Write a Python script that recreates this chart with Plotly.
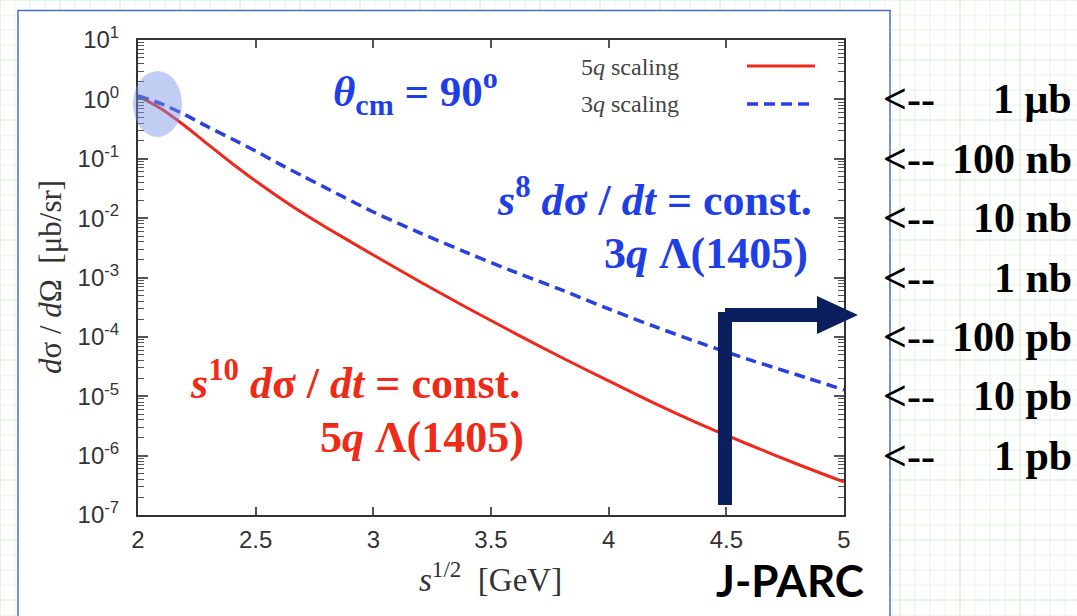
import plotly.graph_objects as go

# ---------------- data ----------------
sqrt_s = [2.0, 2.1, 2.2, 2.3, 2.4, 2.5, 2.6, 2.7, 2.8, 3.0, 3.2, 3.4, 3.6, 3.8,
          4.0, 4.2, 4.4, 4.6, 4.8, 5.0]
five_q = [1.14, 0.69, 0.356, 0.171, 0.0832, 0.0422, 0.0223, 0.0122, 6.96e-3, 2.39e-3,
          8.41e-4, 3.07e-4, 1.16e-4, 4.5e-5, 1.81e-5, 7.41e-6, 3.22e-6, 1.51e-6, 7.23e-7, 3.6e-7]
three_q = [1.14, 0.84, 0.55, 0.34, 0.215, 0.135, 0.082, 0.051, 0.032, 0.0127,
           5.6e-3, 2.6e-3, 1.24e-3, 6.2e-4, 2.95e-4, 1.47e-4, 7.6e-5, 4.1e-5, 2.3e-5, 1.28e-5]

series_names = ["5<i>q</i> scaling", "3<i>q</i> scaling"]

x_tick_vals = [2, 2.5, 3, 3.5, 4, 4.5, 5]
x_tick_text = ["2", "2.5", "3", "3.5", "4", "4.5", "5"]
y_exponents = [1, 0, -1, -2, -3, -4, -5, -6, -7]
y_tick_text = ["10<sup>%d</sup>" % e for e in y_exponents]

unit_exponents = [0, -1, -2, -3, -4, -5, -6]
unit_labels = ["1 μb", "100 nb", "10 nb", "1 nb", "100 pb", "10 pb", "1 pb"]

# ---------------- geometry helpers ----------------
W, H = 1077, 616
L, R, T, B = 138, 844, 40, 515


def px(x):
    return (x - L) / (R - L)


def py(y):
    return (B - y) / (B - T)


RED = "#f0281c"
BLUE = "#2a3fe0"
TXT_BLUE = "#1f3fe6"
TXT_RED = "#ee2a18"
NAVY = "#0b1f5e"
SERIF = "Liberation Serif, Times New Roman, serif"
SANS = "Liberation Sans, Arial, sans-serif"

fig = go.Figure()
fig.add_trace(go.Scatter(x=sqrt_s, y=five_q, mode="lines", name=series_names[0],
                         line=dict(color=RED, width=3, shape="spline", smoothing=0.8),
                         showlegend=False))
fig.add_trace(go.Scatter(x=sqrt_s, y=three_q, mode="lines", name=series_names[1],
                         line=dict(color=BLUE, width=3.5, dash="11px,6px",
                                   shape="spline", smoothing=0.8),
                         showlegend=False))

shapes = []
# graph-paper background
for i, gx in enumerate(range(0, W + 1, 15)):
    shapes.append(dict(type="line", xref="paper", yref="paper", layer="below",
                       x0=px(gx), x1=px(gx), y0=py(-5), y1=py(H + 5),
                       line=dict(color="#cdeccd" if i % 4 == 0 else "#e4f4e4", width=1)))
for i, gy in enumerate(range(0, H + 1, 15)):
    shapes.append(dict(type="line", xref="paper", yref="paper", layer="below",
                       x0=px(-5), x1=px(W + 5), y0=py(gy), y1=py(gy),
                       line=dict(color="#cdeccd" if i % 4 == 0 else "#e4f4e4", width=1)))
# slide frame
shapes.append(dict(type="rect", xref="paper", yref="paper", layer="below",
                   x0=px(18), x1=px(890), y0=py(10.5), y1=py(650),
                   fillcolor="white", line=dict(color="#4a6fc4", width=1.5)))
# shaded spot
shapes.append(dict(type="circle", xref="paper", yref="paper", layer="above",
                   x0=px(133), x1=px(182), y0=py(137), y1=py(71),
                   fillcolor="rgba(120,145,230,0.45)", line=dict(width=0)))
# legend samples
shapes.append(dict(type="line", xref="paper", yref="paper", layer="above",
                   x0=px(747), x1=px(815), y0=py(66), y1=py(66),
                   line=dict(color=RED, width=3)))
shapes.append(dict(type="line", xref="paper", yref="paper", layer="above",
                   x0=px(747), x1=px(815), y0=py(104), y1=py(104),
                   line=dict(color=BLUE, width=3.5, dash="11px,6px")))
# J-PARC arrow
shapes.append(dict(type="rect", xref="paper", yref="paper", layer="above",
                   x0=px(718), x1=px(732), y0=py(505), y1=py(312),
                   fillcolor=NAVY, line=dict(width=0)))
shapes.append(dict(type="rect", xref="paper", yref="paper", layer="above",
                   x0=px(725), x1=px(820), y0=py(322), y1=py(308),
                   fillcolor=NAVY, line=dict(width=0)))
shapes.append(dict(type="path", xref="paper", yref="paper", layer="above",
                   path="M %f %f L %f %f L %f %f Z" % (px(817), py(296), px(858), py(315),
                                                       px(817), py(334)),
                   fillcolor=NAVY, line=dict(width=0)))

ann = []


def text(x, y, s, size, color, family=SERIF, xanchor="left", yanchor="middle",
         yref="paper", angle=0):
    ann.append(dict(x=px(x), y=(py(y) if yref == "paper" else y), xref="paper", yref=yref,
                    text=s, showarrow=False, xanchor=xanchor, yanchor=yanchor,
                    textangle=angle, font=dict(size=size, color=color, family=family)))


# legend texts
text(579, 67, series_names[0], 24, "#444")
text(579, 104, series_names[1], 24, "#444")
# slide annotations
text(331, 91, "<b><i>θ</i><sub>cm</sub> = 90<sup>o</sup></b>", 43, TXT_BLUE)
text(814, 197, "<b><i>s</i><sup>8</sup> <i>d</i>σ / <i>dt</i> = const.</b>", 44, TXT_BLUE,
     xanchor="right")
text(810, 253, "<b>3<i>q</i> Λ(1405)</b>", 44, TXT_BLUE, xanchor="right")
text(355, 380, "<b><i>s</i><sup>10</sup> <i>d</i>σ / <i>dt</i> = const.</b>", 44, TXT_RED,
     xanchor="center")
text(526, 437, "<b>5<i>q</i> Λ(1405)</b>", 44, TXT_RED, xanchor="right")
text(714, 580, "<b>J-PARC</b>", 44, "black", family="Lato, Open Sans, sans-serif")
# axis titles
text(490, 577, "<i>s</i><sup>1/2</sup>&nbsp;&nbsp;[GeV]", 33, "#333", xanchor="center")
text(50, 277, "<i>d</i>σ / <i>d</i>Ω&nbsp;&nbsp;[μb/sr]", 31, "#333", xanchor="center",
     angle=-90)
# cross-section scale on the right
for e, lab in zip(unit_exponents, unit_labels):
    ann.append(dict(x=px(881), y=e, xref="paper", yref="y", text="<b>&lt;--</b>",
                    showarrow=False, xanchor="left", yanchor="middle",
                    font=dict(size=42, color="black", family=SERIF)))
    ann.append(dict(x=px(1074), y=e, xref="paper", yref="y", text="<b>" + lab + "</b>",
                    showarrow=False, xanchor="right", yanchor="middle",
                    font=dict(size=42, color="black", family=SERIF)))

minor_vals = [m * 10.0 ** e for e in range(-7, 1) for m in range(2, 10)]

fig.update_layout(
    width=W, height=H,
    margin=dict(l=L, r=W - R, t=T, b=H - B, autoexpand=False),
    paper_bgcolor="white", plot_bgcolor="white",
    shapes=shapes, annotations=ann, showlegend=False,
    xaxis=dict(range=[2, 5], tickmode="array", tickvals=x_tick_vals, ticktext=x_tick_text,
               ticks="inside", ticklen=8, tickwidth=1.5, tickcolor="#555",
               ticklabelstandoff=2,
               showline=True, linecolor="#333", linewidth=2, mirror="allticks",
               showgrid=False, zeroline=False,
               tickfont=dict(family=SANS, size=24, color="#333")),
    yaxis=dict(type="log", range=[-7, 1], tickmode="array",
               tickvals=[10.0 ** e for e in y_exponents], ticktext=y_tick_text,
               ticks="inside", ticklen=10, tickwidth=1.5, tickcolor="#555",
               ticklabelstandoff=12,
               minor=dict(tickmode="array", tickvals=minor_vals, ticks="inside",
                          ticklen=6, tickwidth=1.2, tickcolor="#555", showgrid=False),
               showline=True, linecolor="#333", linewidth=2, mirror="allticks",
               showgrid=False, zeroline=False,
               tickfont=dict(family=SANS, size=24, color="#333")),
)

fig.write_html("out.html")
